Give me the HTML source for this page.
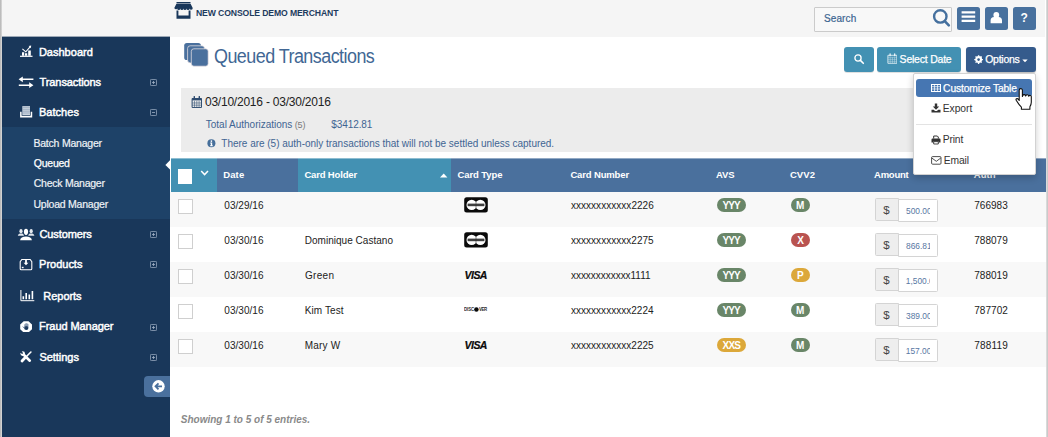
<!DOCTYPE html>
<html>
<head>
<meta charset="utf-8">
<title>Queued Transactions</title>
<style>
*{box-sizing:border-box;margin:0;padding:0}
html,body{width:1048px;height:437px;overflow:hidden;background:#fff;font-family:"Liberation Sans",sans-serif}
#root{position:relative;width:1048px;height:437px;overflow:hidden;background:#fff}
.a{position:absolute;display:block}
.t{position:absolute;white-space:nowrap;transform-origin:0 50%}
</style>
</head>
<body>
<div id="root">
<div class="a" style="left:0px;top:0px;width:1048px;height:37px;background:#f5f5f5;"></div>
<div class="a" style="left:0px;top:37px;width:170px;height:400px;background:#19375a;"></div>
<div class="a" style="left:0px;top:127px;width:170px;height:92px;background:#1e4268;"></div>
<div class="a" style="left:1045px;top:0px;width:3px;height:437px;background:#fff;"></div>
<svg class="a" style="left:174px;top:1px" width="19" height="19" viewBox="0 0 19 19"><path d="M2.500 .9h14v1.600h-14zM2.300 3h14.400l2 4.100a1.550 1.550 0 0 1-3.100 .3a1.550 1.550 0 0 1-3.100 0a1.550 1.550 0 0 1-3.100 0a1.550 1.550 0 0 1-3.100 0a1.550 1.550 0 0 1-3.100 0a1.550 1.550 0 0 1-2.900-.3zM2.500 9.400h14v8.400h-14zM4.400 9.600v4.800h10.200V9.600z" fill="#19375a" fill-rule="evenodd"/></svg>
<div class="t" style="left:195.92px;top:7.78px;font-size:9px;line-height:11px;color:#1d3b5e;letter-spacing:-0.129px;font-weight:bold;transform:scaleX(0.96);">NEW CONSOLE DEMO MERCHANT</div>
<div class="a" style="left:814px;top:7px;width:138px;height:25px;border:1px solid #cbcbcb;background:#f8f8f8;border-radius:1px"></div>
<div class="t" style="left:823.95px;top:12.54px;font-size:10px;line-height:12px;color:#3c6591;letter-spacing:0.130px;-webkit-text-stroke:0.2px #3c6591;">Search</div>
<svg class="a" style="left:930px;top:7px" width="22" height="22" viewBox="0 0 22 22"><circle cx="10.300" cy="9.400" r="6.200" fill="none" stroke="#45709e" stroke-width="2.400"/><path d="M15 14.300L18.800 18.300" stroke="#45709e" stroke-width="2.600" stroke-linecap="round"/></svg>
<div class="a" style="left:957.3px;top:7px;width:22.7px;height:22.8px;background:#48719e;border-radius:2.500px"></div>
<div class="a" style="left:985.3px;top:7px;width:22.7px;height:22.8px;background:#48719e;border-radius:2.500px"></div>
<div class="a" style="left:1013.3px;top:7px;width:22.7px;height:22.8px;background:#48719e;border-radius:2.500px"></div>
<svg class="a" style="left:957px;top:7px" width="23" height="23" viewBox="0 0 23 23"><path d="M4.600 4.200h13.600v2.300H4.600zM4.600 8.500h13.600v2.300H4.600zM4.600 12.700h13.600v2.300H4.600z" fill="#fff"/></svg>
<svg class="a" style="left:985px;top:7px" width="23" height="23" viewBox="0 0 23 23"><ellipse cx="11.300" cy="8" rx="2.900" ry="3.100" fill="#fff"/><path d="M5.600 16.200v-2.600a3.600 3.600 0 0 1 3.600-3.600h4.200a3.600 3.600 0 0 1 3.600 3.600v2.600z" fill="#fff"/></svg>
<div class="t" style="left:1020.45px;top:11.44px;font-size:12px;line-height:14px;color:#fff;letter-spacing:0.000px;font-weight:bold;">?</div>
<div class="t" style="left:38.90px;top:45.99px;font-size:11px;line-height:13px;color:#fff;letter-spacing:0.012px;-webkit-text-stroke:0.45px #fff;">Dashboard</div>
<div class="t" style="left:39.55px;top:75.59px;font-size:11px;line-height:13px;color:#fff;letter-spacing:-0.091px;-webkit-text-stroke:0.45px #fff;">Transactions</div>
<div class="t" style="left:38.90px;top:105.69px;font-size:11px;line-height:13px;color:#fff;letter-spacing:0.042px;-webkit-text-stroke:0.45px #fff;">Batches</div>
<div class="t" style="left:33.45px;top:136.56px;font-size:10.5px;line-height:13px;color:#eef2f6;letter-spacing:-0.221px;-webkit-text-stroke:0.2px #eef2f6;">Batch Manager</div>
<div class="t" style="left:33.80px;top:156.96px;font-size:10.5px;line-height:13px;color:#fff;letter-spacing:-0.240px;-webkit-text-stroke:0.25px #fff;">Queued</div>
<div class="t" style="left:33.75px;top:177.36px;font-size:10.5px;line-height:13px;color:#eef2f6;letter-spacing:-0.242px;-webkit-text-stroke:0.2px #eef2f6;">Check Manager</div>
<div class="t" style="left:33.50px;top:197.66px;font-size:10.5px;line-height:13px;color:#eef2f6;letter-spacing:-0.227px;-webkit-text-stroke:0.2px #eef2f6;">Upload Manager</div>
<div class="t" style="left:39.45px;top:227.59px;font-size:11px;line-height:13px;color:#fff;letter-spacing:-0.094px;-webkit-text-stroke:0.45px #fff;">Customers</div>
<div class="t" style="left:39.10px;top:257.99px;font-size:11px;line-height:13px;color:#fff;letter-spacing:-0.014px;-webkit-text-stroke:0.45px #fff;">Products</div>
<div class="t" style="left:43.30px;top:290.49px;font-size:11px;line-height:13px;color:#fff;letter-spacing:-0.033px;-webkit-text-stroke:0.45px #fff;">Reports</div>
<div class="t" style="left:39.10px;top:320.29px;font-size:11px;line-height:13px;color:#fff;letter-spacing:-0.071px;-webkit-text-stroke:0.45px #fff;">Fraud Manager</div>
<div class="t" style="left:39.50px;top:350.69px;font-size:11px;line-height:13px;color:#fff;letter-spacing:-0.050px;-webkit-text-stroke:0.45px #fff;">Settings</div>
<svg class="a" style="left:150.200px;top:78.6px" width="7" height="7" viewBox="0 0 7 7"><rect x=".4" y=".4" width="6.200" height="6.200" rx="1" fill="none" stroke="#9fb0c5" stroke-width=".8"/><path d="M2 3.500h3M3.500 2v3" stroke="#9fb0c5" stroke-width=".8" fill="none"/></svg>
<svg class="a" style="left:150.200px;top:109.2px" width="7" height="7" viewBox="0 0 7 7"><rect x=".4" y=".4" width="6.200" height="6.200" rx="1" fill="none" stroke="#9fb0c5" stroke-width=".8"/><path d="M2 3.500h3" stroke="#9fb0c5" stroke-width=".8" fill="none"/></svg>
<svg class="a" style="left:150.200px;top:230.8px" width="7" height="7" viewBox="0 0 7 7"><rect x=".4" y=".4" width="6.200" height="6.200" rx="1" fill="none" stroke="#9fb0c5" stroke-width=".8"/><path d="M2 3.500h3M3.500 2v3" stroke="#9fb0c5" stroke-width=".8" fill="none"/></svg>
<svg class="a" style="left:150.200px;top:261.4px" width="7" height="7" viewBox="0 0 7 7"><rect x=".4" y=".4" width="6.200" height="6.200" rx="1" fill="none" stroke="#9fb0c5" stroke-width=".8"/><path d="M2 3.500h3M3.500 2v3" stroke="#9fb0c5" stroke-width=".8" fill="none"/></svg>
<svg class="a" style="left:150.200px;top:323.8px" width="7" height="7" viewBox="0 0 7 7"><rect x=".4" y=".4" width="6.200" height="6.200" rx="1" fill="none" stroke="#9fb0c5" stroke-width=".8"/><path d="M2 3.500h3M3.500 2v3" stroke="#9fb0c5" stroke-width=".8" fill="none"/></svg>
<svg class="a" style="left:150.200px;top:354.4px" width="7" height="7" viewBox="0 0 7 7"><rect x=".4" y=".4" width="6.200" height="6.200" rx="1" fill="none" stroke="#9fb0c5" stroke-width=".8"/><path d="M2 3.500h3M3.500 2v3" stroke="#9fb0c5" stroke-width=".8" fill="none"/></svg>
<svg class="a" style="left:165px;top:158px" width="5" height="14" viewBox="0 0 5 14"><path d="M5 2.200L.4 6.900L5 11.600z" fill="#fff"/></svg>
<div class="a" style="left:144px;top:376px;width:26px;height:21px;background:#4a709d;border-radius:4px 0 0 4px"></div>
<svg class="a" style="left:152px;top:380px" width="13" height="13" viewBox="0 0 13 13"><circle cx="6.500" cy="6.300" r="6.200" fill="#fff"/><path d="M10 6.300H4M6.500 3.300L3.500 6.300l3 3" fill="none" stroke="#4a709d" stroke-width="1.800"/></svg>
<svg class="a" style="left:19px;top:44px" width="15" height="14" viewBox="0 0 15 14"><path d="M1 12.300h12.500" stroke="#fff" stroke-width="1.200"/><path d="M3 8.200h2.200v3.500H3zM6 9.200h2.200v2.500H6zM9.200 6.600h2.600v5.100H9.200z" fill="#fff"/><path d="M3.400 4.800L6.800 7.800L11.300 2.600" fill="none" stroke="#fff" stroke-width="1.100"/><path d="M9.600 2l2.600-.4l-.3 2.700z" fill="#fff"/></svg>
<svg class="a" style="left:18px;top:75px" width="16" height="14" viewBox="0 0 16 14"><path d="M.6 4.300L4.800 1.400v2.100h10.600v1.600H4.800v2.100zM15.400 10.200L11.200 7.300v2.100H.8v1.600h10.400v2.100z" fill="#fff"/></svg>
<svg class="a" style="left:19px;top:105px" width="14" height="14" viewBox="0 0 14 14"><path d="M3.300 1.100h7.700v8.900H3.300z" fill="#c9d2dd"/><path d="M3.300 2.600h7.700M3.300 4.400h7.700M3.300 6.200h7.700M3.300 8h7.700" stroke="#8a9db5" stroke-width=".6"/><path d="M1.100 6.800h1.500v4h9.100v-4h1.500v5.800H1.100z" fill="#fff"/></svg>
<svg class="a" style="left:17px;top:228px" width="18" height="13" viewBox="0 0 18 13"><ellipse cx="4" cy="3.200" rx="1.600" ry="2.100" fill="#e6ebf1"/><ellipse cx="14.200" cy="3.200" rx="1.600" ry="2.100" fill="#e6ebf1"/><path d="M.8 7.800c.3-1.600 1.500-2.200 3.300-2.200s2.600.6 2.900 2.200zM11.200 7.800c.3-1.600 1.100-2.200 2.900-2.200s3 .6 3.300 2.200z" fill="#dfe5ec"/><ellipse cx="9" cy="3.800" rx="2.100" ry="3.100" fill="#fff"/><path d="M3.100 12.200c.4-2.600 2.400-3.800 5.900-3.800s5.500 1.200 5.900 3.800z" fill="#fff"/></svg>
<svg class="a" style="left:19px;top:258px" width="14" height="13" viewBox="0 0 14 13"><path d="M2.800 1.500h8.400l1.600 2.200v7a1 1 0 0 1-1 1H2.200a1 1 0 0 1-1-1v-7z" fill="none" stroke="#fff" stroke-width="1.100"/><path d="M6.100 1.500h1.800v3.200h1.500L7 7.300L4.600 4.700h1.500z" fill="#fff"/><path d="M2.800 8.800h1.800v1.400H2.800z" fill="#fff"/></svg>
<svg class="a" style="left:20px;top:290px" width="15" height="12" viewBox="0 0 15 12"><path d="M.9 0v10.700h13.400" fill="none" stroke="#fff" stroke-width="1"/><path d="M3.300 6.200v3M6.200 3v6.200M9.300 4.500v4.700M12.400 1v8.200" stroke="#fff" stroke-width="1.600"/></svg>
<svg class="a" style="left:20px;top:320.800px" width="12.200" height="11.700" viewBox="0 0 12.200 11.700"><path d="M3.700 .2h4.800l3.500 3.300v4.700L8.500 11.500H3.700L.2 8.200V3.500z" fill="#fff"/><ellipse cx="6.300" cy="7" rx="2.100" ry="1.900" fill="#19375a"/><path d="M4.900 6.200V3.600M5.900 6V2.700M6.900 6V2.600M7.900 6.300V3.300" stroke="#3a5578" stroke-width=".7" stroke-linecap="round"/><path d="M4.500 7.300L3.200 5.900" stroke="#3a5578" stroke-width=".8" stroke-linecap="round"/></svg>
<svg class="a" style="left:20.300px;top:351.300px" width="12" height="12" viewBox="0 0 12 12"><path d="M3 3L9.800 9.700" stroke="#fff" stroke-width="2.600" stroke-linecap="round"/><circle cx="2.700" cy="2.600" r="2.300" fill="#fff"/><path d="M-.2 1.600L1.600 -.2L3.100 2.200L2.200 3.100z" fill="#19375a"/><path d="M10.900 1L6.700 5.200" stroke="#fff" stroke-width="1.600" stroke-linecap="round"/><path d="M5.300 6.500L2 9.900" stroke="#fff" stroke-width="2.800" stroke-linecap="round"/></svg>
<svg class="a" style="left:183px;top:42px" width="28" height="28" viewBox="0 0 28 28"><rect x="1.200" y="1" width="16.700" height="17" rx="2.600" fill="#4a709d"/><rect x="4.600" y="3.800" width="16.900" height="17.100" rx="2.600" fill="#4a709d" stroke="#f3eaea" stroke-width=".7"/><rect x="8.300" y="6.800" width="16.900" height="17.400" rx="2.600" fill="#4a709d" stroke="#f3eaea" stroke-width=".7"/></svg>
<div class="t" style="left:213.87px;top:45.14px;font-size:19.5px;line-height:23px;color:#416794;letter-spacing:-0.589px;transform:scaleX(0.92);">Queued Transactions</div>
<div class="a" style="left:844px;top:47px;width:30px;height:24.5px;background:#4391b3;border-radius:3px;box-shadow:0 1px 0 rgba(0,0,0,.12)"></div>
<div class="a" style="left:877px;top:47px;width:84px;height:24.5px;background:#4391b3;border-radius:3px;box-shadow:0 1px 0 rgba(0,0,0,.12)"></div>
<div class="a" style="left:966px;top:47px;width:70px;height:24.5px;background:#355b8c;border-radius:3px;box-shadow:0 1px 1px rgba(0,0,0,.25)"></div>
<svg class="a" style="left:853px;top:53px" width="12" height="12" viewBox="0 0 12 12"><circle cx="5" cy="5" r="3.100" fill="none" stroke="#fff" stroke-width="1.300"/><path d="M7.400 7.400L10.300 10.300" stroke="#fff" stroke-width="1.600" stroke-linecap="round"/></svg>
<svg class="a" style="left:886.600px;top:53.300px" width="10.800" height="11" viewBox="0 0 10.800 11"><path d="M.9 2.300h9v8H.9z" fill="none" stroke="#e9f3f7" stroke-width=".85" stroke-linejoin="round"/><path d="M.9 4.300h9M.9 6.300h9M.9 8.300h9M3.200 4.300v6M5.400 4.300v6M7.600 4.300v6" stroke="#d3e7ef" stroke-width=".45"/><path d="M3.100 .9v1.800M7.700 .9v1.800" stroke="#eef6f9" stroke-width="1.300" stroke-linecap="round"/></svg>
<div class="t" style="left:899.60px;top:53.06px;font-size:10.5px;line-height:13px;color:#fff;letter-spacing:-0.220px;-webkit-text-stroke:0.25px #fff;">Select Date</div>
<svg class="a" style="left:974px;top:55.300px" width="9.200" height="9.200" viewBox="0 0 10 10"><circle cx="5" cy="5" r="2.700" fill="none" stroke="#fff" stroke-width="2.200"/><path d="M5 .3v9.400M.3 5h9.400M1.700 1.700l6.600 6.600M8.300 1.700L1.700 8.300" stroke="#fff" stroke-width="1.500"/><circle cx="5" cy="5" r="1.400" fill="#355b8c"/></svg>
<div class="t" style="left:985.20px;top:52.86px;font-size:10.5px;line-height:13px;color:#fff;letter-spacing:-0.267px;-webkit-text-stroke:0.25px #fff;">Options</div>
<svg class="a" style="left:1022px;top:59px" width="6" height="4" viewBox="0 0 6 4"><path d="M.3 .5h5.400L3 3.200z" fill="#fff"/></svg>
<div class="a" style="left:181px;top:88px;width:855px;height:64px;background:#ececec;"></div>
<svg class="a" style="left:191.100px;top:95.700px" width="11.600" height="12" viewBox="0 0 10.600 11"><path d="M1 2.300h8.600v8.200H1z" fill="none" stroke="#2d4b6f" stroke-width=".9"/><path d="M1 2.300h8.600v1.700H1z" fill="#2d4b6f"/><path d="M1 6.400h8.600M1 8.400h8.600M3.200 4.400v6M5.300 4.400v6M7.400 4.400v6" stroke="#2d4b6f" stroke-width=".5"/><path d="M3 .6v2.400M7.600 .6v2.400" stroke="#2d4b6f" stroke-width="1.300" stroke-linecap="round"/></svg>
<div class="t" style="left:204.95px;top:95.04px;font-size:12px;line-height:14px;color:#222;letter-spacing:-0.223px;">03/10/2016 - 03/30/2016</div>
<div class="t" style="left:205.75px;top:119.03px;font-size:10px;line-height:12px;color:#3f6593;letter-spacing:-0.005px;">Total Authorizations</div>
<div class="t" style="left:294.65px;top:119.88px;font-size:9px;line-height:11px;color:#7a7a7a;letter-spacing:-0.050px;">(5)</div>
<div class="t" style="left:331.30px;top:119.03px;font-size:10px;line-height:12px;color:#3f6593;letter-spacing:-0.086px;">$3412.81</div>
<svg class="a" style="left:207px;top:139px" width="9" height="9" viewBox="0 0 9 9"><circle cx="4.400" cy="4.200" r="4" fill="#456e9a"/><circle cx="4.400" cy="2.100" r=".85" fill="#fff"/><path d="M3.200 3.600h2v2.700h.6v.9H3.100v-.9h.7V4.400h-.6z" fill="#fff"/></svg>
<div class="t" style="left:221.35px;top:137.73px;font-size:10px;line-height:12px;color:#3f6593;letter-spacing:-0.017px;">There are (5) auth-only transactions that will not be settled unless captured.</div>
<div class="a" style="left:171px;top:159px;width:875px;height:33px;background:#4a709d;"></div>
<div class="a" style="left:171px;top:158px;width:875px;height:1px;background:#92a9c4;"></div>
<div class="a" style="left:171px;top:159px;width:46px;height:33px;background:#4391b3;"></div>
<div class="a" style="left:171px;top:158px;width:46px;height:1px;background:#8ebdd1;"></div>
<div class="a" style="left:297.7px;top:159px;width:153.5px;height:33px;background:#4391b3;"></div>
<div class="a" style="left:297.7px;top:158px;width:153.5px;height:1px;background:#8ebdd1;"></div>
<div class="a" style="left:178px;top:169px;width:14px;height:15px;background:#fff;"></div>
<svg class="a" style="left:200px;top:169px" width="10" height="8" viewBox="0 0 10 8"><path d="M1.200 2l3.400 3.600L8 2" fill="none" stroke="#fff" stroke-width="1.500"/></svg>
<svg class="a" style="left:440px;top:173px" width="8" height="5" viewBox="0 0 8 5"><path d="M0 4.500L3.700 .6L7.400 4.500z" fill="#fff"/></svg>
<div class="t" style="left:223.15px;top:168.81px;font-size:9.5px;line-height:11px;color:#fff;letter-spacing:0.167px;font-weight:bold;">Date</div>
<div class="t" style="left:304.40px;top:168.81px;font-size:9.5px;line-height:11px;color:#fff;letter-spacing:-0.160px;font-weight:bold;">Card Holder</div>
<div class="t" style="left:457.60px;top:168.81px;font-size:9.5px;line-height:11px;color:#fff;letter-spacing:-0.112px;font-weight:bold;">Card Type</div>
<div class="t" style="left:570.40px;top:168.81px;font-size:9.5px;line-height:11px;color:#fff;letter-spacing:-0.145px;font-weight:bold;">Card Number</div>
<div class="t" style="left:715.95px;top:168.81px;font-size:9.5px;line-height:11px;color:#fff;letter-spacing:-0.150px;font-weight:bold;">AVS</div>
<div class="t" style="left:789.90px;top:168.81px;font-size:9.5px;line-height:11px;color:#fff;letter-spacing:0.083px;font-weight:bold;">CVV2</div>
<div class="t" style="left:874.05px;top:168.81px;font-size:9.5px;line-height:11px;color:#fff;letter-spacing:-0.260px;font-weight:bold;">Amount</div>
<div class="t" style="left:973.75px;top:168.81px;font-size:9.5px;line-height:11px;color:#fff;letter-spacing:0.067px;font-weight:bold;">Auth</div>
<div class="a" style="left:170px;top:192px;width:876px;height:35px;background:#f8f8f8;"></div>
<div class="a" style="left:178px;top:199px;width:15px;height:15px;border:1px solid #cfcfcf;background:#fff"></div>
<div class="t" style="left:224.30px;top:200.13px;font-size:10px;line-height:12px;color:#222;letter-spacing:0.036px;">03/29/16</div>
<svg class="a" style="left:464px;top:197px" width="24" height="16" viewBox="0 0 24 16"><rect x=".2" y=".2" width="23.600" height="15.400" rx="2.500" fill="#0a0a0a"/><circle cx="7.700" cy="7.900" r="5.200" fill="#fff"/><circle cx="16.300" cy="7.900" r="5.200" fill="#fff"/><path d="M12 4.800v6.200" stroke="#444" stroke-width=".6"/><rect x="3.600" y="6.600" width="16.800" height="2.600" fill="#2a2a2a" opacity=".9"/></svg>
<div class="t" style="left:570.95px;top:200.13px;font-size:10px;line-height:12px;color:#222;letter-spacing:0.037px;">xxxxxxxxxxxx2226</div>
<div class="a" style="left:717px;top:198.3px;width:29.2px;height:13.9px;background:#698668;border-radius:7px"></div>
<div class="t" style="left:722.40px;top:200.44px;font-size:10px;line-height:12px;color:#fff;letter-spacing:-0.825px;font-weight:bold;">YYY</div>
<div class="a" style="left:791.2px;top:198.3px;width:18.8px;height:13.9px;background:#698668;border-radius:7px"></div>
<div class="t" style="left:795.95px;top:200.44px;font-size:10px;line-height:12px;color:#fff;letter-spacing:0.000px;font-weight:bold;">M</div>
<div class="a" style="left:875px;top:198px;width:24px;height:23px;border:1px solid #d4d4d4;background:#eee;border-radius:1.500px 0 0 1.500px"></div>
<div class="a" style="left:898px;top:199px;width:40px;height:23px;border:1px solid #d4d4d4;background:#fff;border-radius:0 1.500px 1.500px 0"></div>
<div class="t" style="left:883.15px;top:202.82px;font-size:11.5px;line-height:14px;color:#444;letter-spacing:0.000px;">$</div>
<div class="a" style="left:899px;top:200px;width:31px;height:21px;overflow:hidden">
<div class="t" style="left:7.05px;top:5.89px;font-size:8.4px;line-height:10px;color:#5877a3;letter-spacing:0.000px;">500.00</div>
</div>
<div class="t" style="left:974.20px;top:200.13px;font-size:10px;line-height:12px;color:#222;letter-spacing:0.040px;">766983</div>
<div class="a" style="left:170px;top:227px;width:876px;height:35px;background:#fff;"></div>
<div class="a" style="left:178px;top:234px;width:15px;height:15px;border:1px solid #cfcfcf;background:#fff"></div>
<div class="t" style="left:224.30px;top:235.13px;font-size:10px;line-height:12px;color:#222;letter-spacing:0.036px;">03/30/16</div>
<div class="t" style="left:304.70px;top:235.13px;font-size:10px;line-height:12px;color:#222;letter-spacing:0.031px;">Dominique Castano</div>
<svg class="a" style="left:464px;top:232px" width="24" height="16" viewBox="0 0 24 16"><rect x=".2" y=".2" width="23.600" height="15.400" rx="2.500" fill="#0a0a0a"/><circle cx="7.700" cy="7.900" r="5.200" fill="#fff"/><circle cx="16.300" cy="7.900" r="5.200" fill="#fff"/><path d="M12 4.800v6.200" stroke="#444" stroke-width=".6"/><rect x="3.600" y="6.600" width="16.800" height="2.600" fill="#2a2a2a" opacity=".9"/></svg>
<div class="t" style="left:570.95px;top:235.13px;font-size:10px;line-height:12px;color:#222;letter-spacing:0.033px;">xxxxxxxxxxxx2275</div>
<div class="a" style="left:717px;top:233.3px;width:29.2px;height:13.9px;background:#698668;border-radius:7px"></div>
<div class="t" style="left:722.40px;top:235.44px;font-size:10px;line-height:12px;color:#fff;letter-spacing:-0.825px;font-weight:bold;">YYY</div>
<div class="a" style="left:791.2px;top:233.3px;width:18.8px;height:13.9px;background:#b95350;border-radius:7px"></div>
<div class="t" style="left:797.20px;top:235.44px;font-size:10px;line-height:12px;color:#fff;letter-spacing:0.000px;font-weight:bold;">X</div>
<div class="a" style="left:875px;top:233px;width:24px;height:23px;border:1px solid #d4d4d4;background:#eee;border-radius:1.500px 0 0 1.500px"></div>
<div class="a" style="left:898px;top:234px;width:40px;height:23px;border:1px solid #d4d4d4;background:#fff;border-radius:0 1.500px 1.500px 0"></div>
<div class="t" style="left:883.15px;top:237.82px;font-size:11.5px;line-height:14px;color:#444;letter-spacing:0.000px;">$</div>
<div class="a" style="left:899px;top:235px;width:31px;height:21px;overflow:hidden">
<div class="t" style="left:7.05px;top:5.89px;font-size:8.4px;line-height:10px;color:#5877a3;letter-spacing:0.000px;">866.81</div>
</div>
<div class="t" style="left:974.20px;top:235.13px;font-size:10px;line-height:12px;color:#222;letter-spacing:0.040px;">788079</div>
<div class="a" style="left:170px;top:262px;width:876px;height:35px;background:#f8f8f8;"></div>
<div class="a" style="left:178px;top:269px;width:15px;height:15px;border:1px solid #cfcfcf;background:#fff"></div>
<div class="t" style="left:224.30px;top:270.14px;font-size:10px;line-height:12px;color:#222;letter-spacing:0.036px;">03/30/16</div>
<div class="t" style="left:305.00px;top:270.14px;font-size:10px;line-height:12px;color:#222;letter-spacing:0.312px;">Green</div>
<div class="t" style="left:464.60px;top:268.86px;font-size:10.5px;line-height:13px;color:#0a0a0a;letter-spacing:-0.567px;font-weight:bold;font-style:italic;-webkit-text-stroke:0.2px #0a0a0a;">VISA</div>
<div class="t" style="left:570.95px;top:270.14px;font-size:10px;line-height:12px;color:#222;letter-spacing:-0.030px;">xxxxxxxxxxxx1111</div>
<div class="a" style="left:717px;top:268.3px;width:29.2px;height:13.9px;background:#698668;border-radius:7px"></div>
<div class="t" style="left:722.40px;top:270.44px;font-size:10px;line-height:12px;color:#fff;letter-spacing:-0.825px;font-weight:bold;">YYY</div>
<div class="a" style="left:791.2px;top:268.3px;width:18.8px;height:13.9px;background:#dca83a;border-radius:7px"></div>
<div class="t" style="left:796.95px;top:270.44px;font-size:10px;line-height:12px;color:#fff;letter-spacing:0.000px;font-weight:bold;">P</div>
<div class="a" style="left:875px;top:268px;width:24px;height:23px;border:1px solid #d4d4d4;background:#eee;border-radius:1.500px 0 0 1.500px"></div>
<div class="a" style="left:898px;top:269px;width:40px;height:23px;border:1px solid #d4d4d4;background:#fff;border-radius:0 1.500px 1.500px 0"></div>
<div class="t" style="left:883.15px;top:272.82px;font-size:11.5px;line-height:14px;color:#444;letter-spacing:0.000px;">$</div>
<div class="a" style="left:899px;top:270px;width:31px;height:21px;overflow:hidden">
<div class="t" style="left:6.75px;top:5.89px;font-size:8.4px;line-height:10px;color:#5877a3;letter-spacing:0.000px;">1,500.00</div>
</div>
<div class="t" style="left:974.20px;top:270.14px;font-size:10px;line-height:12px;color:#222;letter-spacing:0.040px;">788019</div>
<div class="a" style="left:170px;top:297px;width:876px;height:35px;background:#fff;"></div>
<div class="a" style="left:178px;top:304px;width:15px;height:15px;border:1px solid #cfcfcf;background:#fff"></div>
<div class="t" style="left:224.30px;top:305.14px;font-size:10px;line-height:12px;color:#222;letter-spacing:0.036px;">03/30/16</div>
<div class="t" style="left:304.70px;top:305.14px;font-size:10px;line-height:12px;color:#222;letter-spacing:0.100px;">Kim Test</div>
<div class="t" style="left:463.91px;top:306.32px;font-size:6px;line-height:7px;color:#2a2a2a;letter-spacing:-0.046px;font-weight:bold;transform:scaleX(0.72);">DISC</div>
<svg class="a" style="left:473px;top:306px" width="7" height="7" viewBox="0 0 7 7"><circle cx="3.400" cy="3.450" r="2.250" fill="#0a0a0a"/></svg>
<div class="t" style="left:478.76px;top:306.32px;font-size:6px;line-height:7px;color:#2a2a2a;letter-spacing:-0.519px;font-weight:bold;transform:scaleX(0.72);">VER</div>
<div class="t" style="left:570.95px;top:305.14px;font-size:10px;line-height:12px;color:#222;letter-spacing:0.027px;">xxxxxxxxxxxx2224</div>
<div class="a" style="left:717px;top:303.3px;width:29.2px;height:13.9px;background:#698668;border-radius:7px"></div>
<div class="t" style="left:722.40px;top:305.44px;font-size:10px;line-height:12px;color:#fff;letter-spacing:-0.825px;font-weight:bold;">YYY</div>
<div class="a" style="left:791.2px;top:303.3px;width:18.8px;height:13.9px;background:#698668;border-radius:7px"></div>
<div class="t" style="left:795.95px;top:305.44px;font-size:10px;line-height:12px;color:#fff;letter-spacing:0.000px;font-weight:bold;">M</div>
<div class="a" style="left:875px;top:303px;width:24px;height:23px;border:1px solid #d4d4d4;background:#eee;border-radius:1.500px 0 0 1.500px"></div>
<div class="a" style="left:898px;top:304px;width:40px;height:23px;border:1px solid #d4d4d4;background:#fff;border-radius:0 1.500px 1.500px 0"></div>
<div class="t" style="left:883.15px;top:307.82px;font-size:11.5px;line-height:14px;color:#444;letter-spacing:0.000px;">$</div>
<div class="a" style="left:899px;top:305px;width:31px;height:21px;overflow:hidden">
<div class="t" style="left:7.05px;top:5.89px;font-size:8.4px;line-height:10px;color:#5877a3;letter-spacing:0.000px;">389.00</div>
</div>
<div class="t" style="left:974.20px;top:305.14px;font-size:10px;line-height:12px;color:#222;letter-spacing:0.050px;">787702</div>
<div class="a" style="left:170px;top:332px;width:876px;height:35px;background:#f8f8f8;"></div>
<div class="a" style="left:178px;top:339px;width:15px;height:15px;border:1px solid #cfcfcf;background:#fff"></div>
<div class="t" style="left:224.30px;top:340.14px;font-size:10px;line-height:12px;color:#222;letter-spacing:0.036px;">03/30/16</div>
<div class="t" style="left:304.70px;top:340.14px;font-size:10px;line-height:12px;color:#222;letter-spacing:0.220px;">Mary W</div>
<div class="t" style="left:464.60px;top:338.86px;font-size:10.5px;line-height:13px;color:#0a0a0a;letter-spacing:-0.567px;font-weight:bold;font-style:italic;-webkit-text-stroke:0.2px #0a0a0a;">VISA</div>
<div class="t" style="left:570.95px;top:340.14px;font-size:10px;line-height:12px;color:#222;letter-spacing:0.033px;">xxxxxxxxxxxx2225</div>
<div class="a" style="left:717px;top:338.3px;width:29.2px;height:13.9px;background:#dca83a;border-radius:7px"></div>
<div class="t" style="left:722.50px;top:340.44px;font-size:10px;line-height:12px;color:#fff;letter-spacing:-0.775px;font-weight:bold;">XXS</div>
<div class="a" style="left:791.2px;top:338.3px;width:18.8px;height:13.9px;background:#698668;border-radius:7px"></div>
<div class="t" style="left:795.95px;top:340.44px;font-size:10px;line-height:12px;color:#fff;letter-spacing:0.000px;font-weight:bold;">M</div>
<div class="a" style="left:875px;top:338px;width:24px;height:23px;border:1px solid #d4d4d4;background:#eee;border-radius:1.500px 0 0 1.500px"></div>
<div class="a" style="left:898px;top:339px;width:40px;height:23px;border:1px solid #d4d4d4;background:#fff;border-radius:0 1.500px 1.500px 0"></div>
<div class="t" style="left:883.15px;top:342.82px;font-size:11.5px;line-height:14px;color:#444;letter-spacing:0.000px;">$</div>
<div class="a" style="left:899px;top:340px;width:31px;height:21px;overflow:hidden">
<div class="t" style="left:6.75px;top:5.89px;font-size:8.4px;line-height:10px;color:#5877a3;letter-spacing:0.000px;">157.00</div>
</div>
<div class="t" style="left:974.20px;top:340.14px;font-size:10px;line-height:12px;color:#222;letter-spacing:0.190px;">788119</div>
<div class="t" style="left:180.85px;top:413.54px;font-size:10px;line-height:12px;color:#8a8a8a;letter-spacing:-0.009px;font-weight:bold;font-style:italic;">Showing 1 to 5 of 5 entries.</div>
<div class="a" style="left:912.500px;top:73px;width:123.500px;height:102px;background:#fff;border:1px solid #d2d2d2;border-radius:2px;box-shadow:0 3px 7px rgba(0,0,0,.2)"></div>
<div class="a" style="left:916px;top:79px;width:116px;height:18px;background:#4676b2;border-radius:3px"></div>
<svg class="a" style="left:931px;top:84px" width="10" height="8" viewBox="0 0 10 8"><rect x=".5" y=".5" width="9" height="7" fill="none" stroke="#fff" stroke-width="1"/><path d="M.5 2.700h9M.5 5h9M3.500 .5v7M6.500 .5v7" stroke="#fff" stroke-width=".7"/></svg>
<div class="t" style="left:943.10px;top:83.03px;font-size:10.3px;line-height:12px;color:#fff;letter-spacing:-0.146px;-webkit-text-stroke:0.25px #fff;">Customize Table</div>
<svg class="a" style="left:931px;top:103px" width="10" height="10" viewBox="0 0 10 10"><path d="M3.800 .5h2.400v3h2L5 6.800L1.800 3.500h2z" fill="#333"/><path d="M.5 6.800h2.300l1.200 1.200h2l1.200-1.200h2.300v2.700h-9z" fill="#333"/></svg>
<div class="t" style="left:942.75px;top:103.23px;font-size:10.3px;line-height:12px;color:#333;letter-spacing:-0.050px;">Export</div>
<div class="a" style="left:916px;top:124px;width:116px;height:1px;background:#e3e3e3;"></div>
<svg class="a" style="left:931px;top:135px" width="10" height="10" viewBox="0 0 10 10"><path d="M2.700 3.600V1h3.600l1 1v1.600" fill="none" stroke="#333" stroke-width="1"/><path d="M.5 4.600a1 1 0 0 1 1-1h7a1 1 0 0 1 1 1v3h-2v-1.300h-5v1.300h-2z" fill="#333"/><path d="M2.700 6.600h4.600v2.400H2.700z" fill="none" stroke="#333" stroke-width=".9"/></svg>
<div class="t" style="left:942.75px;top:134.03px;font-size:10.3px;line-height:12px;color:#333;letter-spacing:-0.162px;">Print</div>
<svg class="a" style="left:930.700px;top:155.800px" width="11" height="9" viewBox="0 0 11 9"><rect x=".6" y=".6" width="9.400" height="7.600" rx="1" fill="none" stroke="#3a3a3a" stroke-width=".9"/><path d="M.8 2l4.500 3.300l4.500-3.300" fill="none" stroke="#3a3a3a" stroke-width=".9"/></svg>
<div class="t" style="left:943.65px;top:155.23px;font-size:10.3px;line-height:12px;color:#333;letter-spacing:-0.100px;">Email</div>
<svg class="a" style="left:1013px;top:87px" width="20" height="24" viewBox="0 0 20 24"><path d="M6.200 13.500V3.200a1.600 1.600 0 0 1 3.200 0v6.300l.3-.9a1.500 1.500 0 0 1 2.900.4l.3-.4a1.400 1.400 0 0 1 2.700.6l.3-.2a1.300 1.300 0 0 1 2.400.8v5.400c0 2-.6 3.200-1.400 4.600v2.500H8.400v-2.200c-1.600-1.400-3.300-3.700-5.200-6.800c-.7-1.300.9-2.300 2-1.200z" fill="#fff" stroke="#111" stroke-width="1.100" stroke-linejoin="round"/></svg>
<div class="a" style="left:2px;top:36px;width:168px;height:1px;background:#9da9b7;"></div>
<div class="a" style="left:0;top:0;width:2px;height:437px;background:linear-gradient(90deg,#b2b2b2,#dcdcdc)"></div>
<div class="a" style="left:1046px;top:0;width:2px;height:437px;background:linear-gradient(90deg,#e2e2e2,#c2c2c2)"></div>
</div>
</body>
</html>
